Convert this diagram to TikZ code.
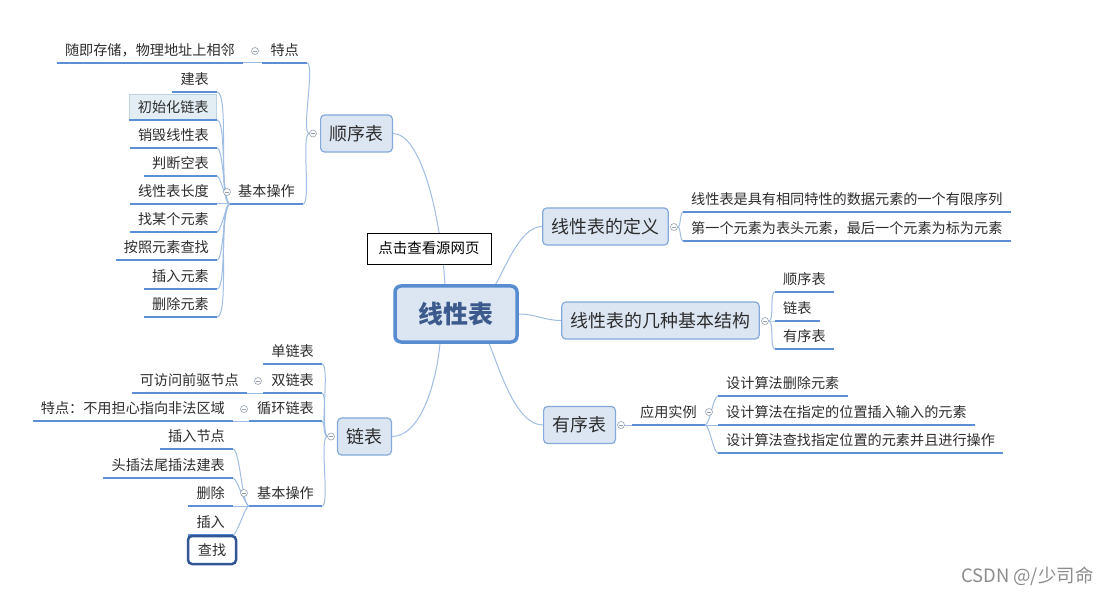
\documentclass[tikz,border=0pt]{standalone}
\usepackage{fontspec}
\setmainfont{Noto Sans CJK SC}
\usetikzlibrary{backgrounds}

\definecolor{boxfill}{RGB}{220,230,243}
\definecolor{boxline}{RGB}{132,170,218}
\definecolor{rootline}{RGB}{88,140,208}
\definecolor{roottext}{RGB}{60,90,140}
\definecolor{linkblue}{RGB}{160,189,227}
\definecolor{ruleblue}{RGB}{92,143,213}
\definecolor{txtgray}{RGB}{45,45,45}
\definecolor{selfill}{RGB}{226,237,244}
\definecolor{selline}{RGB}{190,210,225}
\definecolor{seldark}{RGB}{50,85,150}
\definecolor{markgray}{RGB}{150,160,175}

\begin{document}
\begin{tikzpicture}[x=1bp,y=-1bp,
  root/.style={draw=rootline,line width=3.5bp,fill=boxfill,rounded corners=6bp,
    minimum width=122bp,minimum height=56bp,text=roottext,
    font=\fontsize{25}{30}\selectfont\bfseries},
  topic/.style={draw=boxline,line width=1.2bp,fill=boxfill,rounded corners=4bp,
    minimum height=37bp,inner xsep=9bp,text=txtgray,font=\fontsize{18}{22}\selectfont},
  topicrule/.style={draw=ruleblue,line width=2bp},
  leaf/.style={inner xsep=8bp,inner ysep=6bp,text=txtgray,font=\fontsize{14.2}{17}\selectfont,
    append after command={(\tikzlastnode.south west) edge[topicrule] (\tikzlastnode.south east)}},
  link/.style={draw=linkblue,line width=1bp},
  fold/.style={circle,draw=markgray,fill=white,line width=.6bp,minimum size=7bp,inner sep=0pt,
    path picture={\draw[markgray,line width=.6bp] ([xshift=-2bp]path picture bounding box.center) -- ([xshift=2bp]path picture bounding box.center);}}]
\useasboundingbox (0,0) rectangle (1111,594);

% centre
\node[root] (c) at (456,314) {线性表};
\node[draw=black,line width=.8bp,fill=white,minimum width=124bp,minimum height=31bp,
  inner xsep=6bp,font=\fontsize{14.5}{17}\selectfont] (src) at (429,248.5) {点击查看源网页};

% 顺序表
\node[topic] (sx) at (356.5,133.5) {顺序表};
\node[fold] (fsx) at (313,133.5) {};
\node[leaf,anchor=south east] (td) at (307,63) {特点};
\node[fold] (ftd) at (255,51) {};
\node[leaf,anchor=south east] (td1) at (243,63) {随即存储，物理地址上相邻};
\node[leaf,anchor=south east] (sxop) at (303,204) {基本操作};
\node[fold] (fsxop) at (227,192) {};
\node[leaf,anchor=south east] (op1) at (217,92) {建表};
\node[leaf,anchor=south east,fill=selfill,draw=selline,line width=.8bp] (op2) at (217,120) {初始化链表};
\node[leaf,anchor=south east] (op3) at (217,148) {销毁线性表};
\node[leaf,anchor=south east] (op4) at (217,176) {判断空表};
\node[leaf,anchor=south east] (op5) at (217,204) {线性表长度};
\node[leaf,anchor=south east] (op6) at (217,232) {找某个元素};
\node[leaf,anchor=south east] (op7) at (217,260) {按照元素查找};
\node[leaf,anchor=south east] (op8) at (217,289) {插入元素};
\node[leaf,anchor=south east] (op9) at (217,317) {删除元素};

% 链表
\node[topic] (lb) at (364.5,436.5) {链表};
\node[fold] (flb) at (331,436.5) {};
\node[leaf,anchor=south east] (d1) at (322,364) {单链表};
\node[leaf,anchor=south east] (d2) at (322,393) {双链表};
\node[fold] (fd2) at (258,381) {};
\node[leaf,anchor=south east] (d2a) at (247,393) {可访问前驱节点};
\node[leaf,anchor=south east] (d3) at (322,421) {循环链表};
\node[fold] (fd3) at (244,409) {};
\node[leaf,anchor=south east] (d3a) at (233,421) {特点：不用担心指向非法区域};
\node[leaf,anchor=south east] (d4) at (322,506) {基本操作};
\node[fold] (fd4) at (244,493) {};
\node[leaf,anchor=south east] (e1) at (233,449) {插入节点};
\node[leaf,anchor=south east] (e2) at (233,478) {头插法尾插法建表};
\node[leaf,anchor=south east] (e3) at (233,506) {删除};
\node[leaf,anchor=south east] (e4) at (233,535) {插入};
\node[draw=seldark,line width=2.5bp,rounded corners=4bp,fill=white,minimum width=48bp,
  minimum height=28bp,text=txtgray,font=\fontsize{14.2}{17}\selectfont] (e5) at (212,550) {查找};

% 线性表的定义
\node[topic] (dy) at (605.5,226.5) {线性表的定义};
\node[fold] (fdy) at (674,227) {};
\node[leaf,anchor=south west] (r1) at (683,212) {线性表是具有相同特性的数据元素的一个有限序列};
\node[leaf,anchor=south west] (r2) at (683,241) {第一个元素为表头元素，最后一个元素为标为元素};

% 几种基本结构
\node[topic] (jg) at (660.5,320.5) {线性表的几种基本结构};
\node[fold] (fjg) at (765,321) {};
\node[leaf,anchor=south west] (s1) at (775,292) {顺序表};
\node[leaf,anchor=south west] (s2) at (775,321) {链表};
\node[leaf,anchor=south west] (s3) at (775,349) {有序表};

% 有序表
\node[topic] (yx) at (579.5,425) {有序表};
\node[fold] (fyx) at (621,425) {};
\node[leaf,anchor=south west] (a0) at (632,425) {应用实例};
\node[fold] (fa0) at (709,412) {};
\node[leaf,anchor=south west] (a1) at (718,396) {设计算法删除元素};
\node[leaf,anchor=south west] (a2) at (718,425) {设计算法在指定的位置插入输入的元素};
\node[leaf,anchor=south west] (a3) at (718,453) {设计算法查找指定位置的元素并且进行操作};

\node[anchor=east,text=black!45,font=\fontsize{18.5}{22}\selectfont] (wm) at (1097,576) {CSDN @/少司命};

\begin{scope}[on background layer]
\fill[white] (0,0) rectangle (1111,594);
% main branches
\draw[link] (sx.east) .. controls (420,133.5) and (440,210) .. ([xshift=-11bp]c.north);
\draw[link] (lb.east) .. controls (420,436.5) and (436,385) .. ([xshift=-16bp]c.south);
\draw[link] ([xshift=29bp]c.north) to[out=285,in=180] (dy.west);
\draw[link] (c.east) to[out=0,in=180] (jg.west);
\draw[link] ([xshift=24bp]c.south) to[out=80,in=180] (yx.west);
% 顺序表
\draw[link] (fsx.west) to[out=180,in=0,looseness=.3] (td.south east);
\draw[link] (fsx.west) to[out=180,in=0,looseness=.3] (sxop.south east);
\draw[link] (td1.south east) -- (td.south west);
\draw[link] (sxop.south west) to[out=180,in=0,looseness=.3] (op1.south east);
\draw[link] (sxop.south west) to[out=180,in=0,looseness=.3] (op2.south east);
\draw[link] (sxop.south west) to[out=180,in=0,looseness=.3] (op3.south east);
\draw[link] (sxop.south west) to[out=180,in=0,looseness=.3] (op4.south east);
\draw[link] (sxop.south west) -- (op5.south east);
\draw[link] (sxop.south west) to[out=180,in=0,looseness=.3] (op6.south east);
\draw[link] (sxop.south west) to[out=180,in=0,looseness=.3] (op7.south east);
\draw[link] (sxop.south west) to[out=180,in=0,looseness=.3] (op8.south east);
\draw[link] (sxop.south west) to[out=180,in=0,looseness=.3] (op9.south east);
% 链表
\draw[link] (flb.west) to[out=180,in=0,looseness=.3] (d1.south east);
\draw[link] (flb.west) to[out=180,in=0,looseness=.3] (d2.south east);
\draw[link] (flb.west) to[out=180,in=0,looseness=.3] (d3.south east);
\draw[link] (flb.west) to[out=180,in=0,looseness=.3] (d4.south east);
\draw[link] (d2a.south east) -- (d2.south west);
\draw[link] (d3a.south east) -- (d3.south west);
\draw[link] (d4.south west) to[out=180,in=0,looseness=.3] (e1.south east);
\draw[link] (d4.south west) to[out=180,in=0,looseness=.3] (e2.south east);
\draw[link] (d4.south west) -- (e3.south east);
\draw[link] (d4.south west) to[out=180,in=0,looseness=.3] (e4.south east);
% right side
\draw[link] (fdy.east) to[out=0,in=180,looseness=.5] (r1.south west);
\draw[link] (fdy.east) to[out=0,in=180,looseness=.5] (r2.south west);
\draw[link] (fjg.east) to[out=0,in=180,looseness=.5] (s1.south west);
\draw[link] (fjg.east) to[out=0,in=180,looseness=.5] (s2.south west);
\draw[link] (fjg.east) to[out=0,in=180,looseness=.5] (s3.south west);
\draw[link] (fyx.east) -- (a0.south west);
\draw[link] (a0.south east) to[out=0,in=180,looseness=.4] (a1.south west);
\draw[link] (a0.south east) -- (a2.south west);
\draw[link] (a0.south east) to[out=0,in=180,looseness=.4] (a3.south west);
\end{scope}
\end{tikzpicture}
\end{document}
